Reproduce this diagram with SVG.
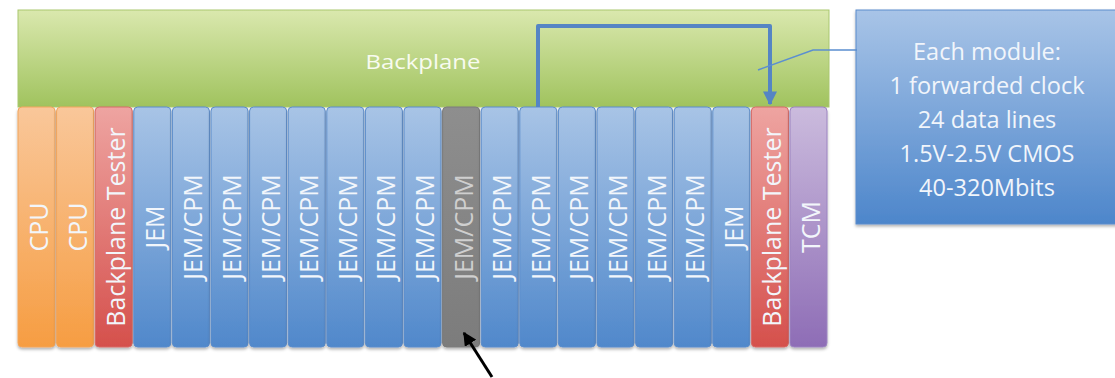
<svg xmlns="http://www.w3.org/2000/svg" width="1115" height="378" viewBox="0 0 1115 378">
<defs>
<linearGradient id="gGreen" x1="0" y1="0" x2="0" y2="1"><stop offset="0" stop-color="#dae8ae"/><stop offset="1" stop-color="#a0c35e"/></linearGradient>
<linearGradient id="gBlue" x1="0" y1="0" x2="0" y2="1"><stop offset="0" stop-color="#a8c4e6"/><stop offset="1" stop-color="#5088cb"/></linearGradient>
<linearGradient id="gCall" x1="0" y1="0" x2="0" y2="1"><stop offset="0" stop-color="#a8c4e7"/><stop offset="1" stop-color="#4d86cb"/></linearGradient>
<linearGradient id="gOrange" x1="0" y1="0" x2="0" y2="1"><stop offset="0" stop-color="#f9c79a"/><stop offset="1" stop-color="#f69d42"/></linearGradient>
<linearGradient id="gRed" x1="0" y1="0" x2="0" y2="1"><stop offset="0" stop-color="#eea4a1"/><stop offset="1" stop-color="#d5504c"/></linearGradient>
<linearGradient id="gPurple" x1="0" y1="0" x2="0" y2="1"><stop offset="0" stop-color="#cbbbdd"/><stop offset="1" stop-color="#8e6db6"/></linearGradient>
<linearGradient id="gGray" x1="0" y1="0" x2="0" y2="1"><stop offset="0" stop-color="#8e8e8e"/><stop offset="1" stop-color="#7c7c7c"/></linearGradient>
<filter id="sh" x="-20%" y="-10%" width="140%" height="120%"><feDropShadow dx="0" dy="2" stdDeviation="1.5" flood-color="#000" flood-opacity="0.3"/></filter>
<marker id="mBlue" viewBox="0 0 10 10" refX="9" refY="5" markerWidth="3.5" markerHeight="3.5" orient="auto" markerUnits="strokeWidth"><path d="M0,0 L10,5 L0,10 Z" fill="#5585c4"/></marker>
<marker id="mBlack" viewBox="0 0 10 10" refX="9" refY="5" markerWidth="4.5" markerHeight="4.5" orient="auto" markerUnits="strokeWidth"><path d="M0,0 L10,5 L0,10 Z" fill="#000"/></marker>
</defs>
<style>
.slot{stroke-width:1;filter:url(#sh)}
.b{fill:url(#gBlue);stroke:#5b8ccb}
.o{fill:url(#gOrange);stroke:#f2a45a}
.r{fill:url(#gRed);stroke:#d76a66}
.p{fill:url(#gPurple);stroke:#9c84c0}
.g{fill:url(#gGray);stroke:#7a7a7a}
.lbl{font-family:"Open Sans","DejaVu Sans",sans-serif;font-size:25px;fill:#f2f6fb;text-anchor:middle}
.gl{fill:#cfcfcf}
.ct{font-family:"Open Sans","DejaVu Sans",sans-serif;font-size:23.5px;fill:#f1f5fb;text-anchor:middle}
</style>
<g id="backplane">
<rect x="18" y="10" width="811" height="97" fill="url(#gGreen)" stroke="#a9c76e" stroke-width="1"/>
<text x="423" y="69" font-family="'Open Sans','DejaVu Sans',sans-serif" font-size="20" fill="#f8fbf0" text-anchor="middle" textLength="115" lengthAdjust="spacingAndGlyphs">Backplane</text>
</g>
<g id="callout">
<rect x="856" y="10" width="265" height="214" fill="url(#gCall)" stroke="#5b8ccb" stroke-width="1" filter="url(#sh)"/>
<text class="ct" x="987" y="60">Each module:</text>
<text class="ct" x="987" y="94">1 forwarded clock</text>
<text class="ct" x="987" y="128">24 data lines</text>
<text class="ct" x="987" y="162">1.5V-2.5V CMOS</text>
<text class="ct" x="987" y="196">40-320Mbits</text>
</g>
<g id="slot0"><rect class="slot o" x="18" y="107" width="37" height="240" rx="4"/><text class="lbl" transform="translate(48,227) rotate(-90)">CPU</text></g>
<g id="slot1"><rect class="slot o" x="56.6" y="107" width="37" height="240" rx="4"/><text class="lbl" transform="translate(86.6,227) rotate(-90)">CPU</text></g>
<g id="slot2"><rect class="slot r" x="95.2" y="107" width="37" height="240" rx="4"/><text class="lbl" transform="translate(125.2,227) rotate(-90)">Backplane Tester</text></g>
<g id="slot3"><rect class="slot b" x="133.8" y="107" width="37" height="240" rx="4"/><text class="lbl" transform="translate(163.8,227) rotate(-90)">JEM</text></g>
<g id="slot4"><rect class="slot b" x="172.4" y="107" width="37" height="240" rx="4"/><text class="lbl" transform="translate(202.4,227) rotate(-90)">JEM/CPM</text></g>
<g id="slot5"><rect class="slot b" x="211" y="107" width="37" height="240" rx="4"/><text class="lbl" transform="translate(241,227) rotate(-90)">JEM/CPM</text></g>
<g id="slot6"><rect class="slot b" x="249.6" y="107" width="37" height="240" rx="4"/><text class="lbl" transform="translate(279.6,227) rotate(-90)">JEM/CPM</text></g>
<g id="slot7"><rect class="slot b" x="288.2" y="107" width="37" height="240" rx="4"/><text class="lbl" transform="translate(318.2,227) rotate(-90)">JEM/CPM</text></g>
<g id="slot8"><rect class="slot b" x="326.8" y="107" width="37" height="240" rx="4"/><text class="lbl" transform="translate(356.8,227) rotate(-90)">JEM/CPM</text></g>
<g id="slot9"><rect class="slot b" x="365.4" y="107" width="37" height="240" rx="4"/><text class="lbl" transform="translate(395.4,227) rotate(-90)">JEM/CPM</text></g>
<g id="slot10"><rect class="slot b" x="404" y="107" width="37" height="240" rx="4"/><text class="lbl" transform="translate(434,227) rotate(-90)">JEM/CPM</text></g>
<g id="slot11"><rect class="slot g" x="442.6" y="107" width="37" height="240" rx="4"/><text class="lbl gl" transform="translate(472.6,227) rotate(-90)">JEM/CPM</text></g>
<g id="slot12"><rect class="slot b" x="481.2" y="107" width="37" height="240" rx="4"/><text class="lbl" transform="translate(511.2,227) rotate(-90)">JEM/CPM</text></g>
<g id="slot13"><rect class="slot b" x="519.8" y="107" width="37" height="240" rx="4"/><text class="lbl" transform="translate(549.8,227) rotate(-90)">JEM/CPM</text></g>
<g id="slot14"><rect class="slot b" x="558.4" y="107" width="37" height="240" rx="4"/><text class="lbl" transform="translate(588.4,227) rotate(-90)">JEM/CPM</text></g>
<g id="slot15"><rect class="slot b" x="597" y="107" width="37" height="240" rx="4"/><text class="lbl" transform="translate(627,227) rotate(-90)">JEM/CPM</text></g>
<g id="slot16"><rect class="slot b" x="635.6" y="107" width="37" height="240" rx="4"/><text class="lbl" transform="translate(665.6,227) rotate(-90)">JEM/CPM</text></g>
<g id="slot17"><rect class="slot b" x="674.2" y="107" width="37" height="240" rx="4"/><text class="lbl" transform="translate(704.2,227) rotate(-90)">JEM/CPM</text></g>
<g id="slot18"><rect class="slot b" x="712.8" y="107" width="37" height="240" rx="4"/><text class="lbl" transform="translate(742.8,227) rotate(-90)">JEM</text></g>
<g id="slot19"><rect class="slot r" x="751.4" y="107" width="37" height="240" rx="4"/><text class="lbl" transform="translate(781.4,227) rotate(-90)">Backplane Tester</text></g>
<g id="slot20"><rect class="slot p" x="790" y="107" width="37" height="240" rx="4"/><text class="lbl" transform="translate(820,227) rotate(-90)">TCM</text></g>
<g id="connectors" fill="none">
<path d="M538,107 V26 H770 V104" stroke="#5585c4" stroke-width="4" stroke-linejoin="round" marker-end="url(#mBlue)"/>
<path d="M857,50 H813 L758,70" stroke="#5b8fd0" stroke-width="1.5"/>
<path d="M492,377 L464,333" stroke="#000" stroke-width="3" marker-end="url(#mBlack)"/>
</g>
</svg>
